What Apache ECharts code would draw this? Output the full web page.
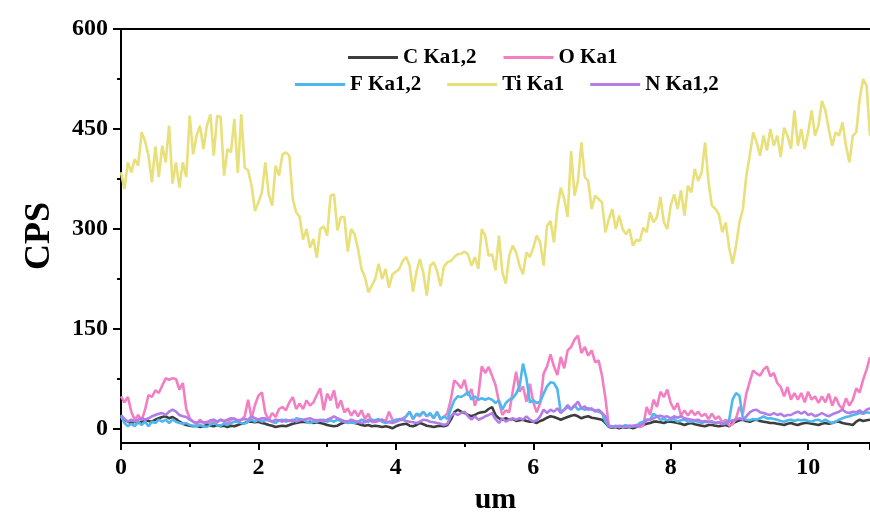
<!DOCTYPE html>
<html>
<head>
<meta charset="utf-8">
<title>EDS line scan</title>
<script src="https://cdn.jsdelivr.net/npm/echarts@6/dist/echarts.min.js"></script>
<style>
  html, body { margin: 0; padding: 0; background: #fff; }
  #chart { width: 870px; height: 516px; }
</style>
</head>
<body>
<div id="chart"></div>
<script>
// Line-scan sampling: one reading every 0.05 um, starting at 0 um
const STEP_UM = 0.05;

const seriesNames = ['C Ka1,2', 'O Ka1', 'F Ka1,2', 'Ti Ka1', 'N Ka1,2'];
const yTickValues = [0, 150, 300, 450, 600];
const yMinorValues = [75, 225, 375, 525];

// Counts per second for each element along the scan
const cKa = [
  20,14,11,9,11,9,11,14,12,11,14,16,18,19,16,18,15,11,8,6,
  5,4,5,3,4,6,5,4,6,4,5,3,5,4,6,8,9,11,11,10,
  11,9,8,6,5,3,4,5,4,6,8,9,10,11,10,11,9,10,9,8,
  6,5,4,5,8,10,11,10,9,8,6,5,6,4,5,4,3,4,3,1,
  4,6,7,8,5,4,6,9,7,5,4,3,4,5,4,6,14,25,29,26,
  24,21,19,21,24,25,26,30,33,21,16,14,16,14,15,12,13,14,12,11,
  11,9,12,14,17,19,18,16,14,16,18,20,21,19,16,18,19,17,16,15,
  14,9,3,2,3,1,3,2,3,1,3,4,6,8,9,11,11,10,9,11,
  11,10,9,8,6,8,9,7,6,5,4,6,6,5,4,5,6,4,9,11,
  13,14,12,11,13,14,12,11,10,9,9,8,7,6,8,9,7,6,8,9,
  9,8,7,6,8,9,8,9,11,11,9,8,7,6,11,14,12,13,14
];

const oKa = [
  49,40,48,26,14,21,13,29,51,48,58,54,65,76,74,76,75,59,69,30,
  16,11,8,14,9,11,8,13,10,14,11,9,14,16,10,14,19,44,16,36,
  50,55,24,14,24,18,30,33,28,40,48,30,38,30,43,35,40,51,61,28,
  53,43,58,31,43,25,31,20,28,19,28,15,23,10,11,12,14,11,26,14,
  11,14,16,19,26,15,22,19,26,19,23,16,25,16,18,24,44,73,68,61,
  74,50,60,35,50,94,84,93,80,66,41,21,28,25,56,86,56,64,41,68,
  40,25,39,83,94,112,94,81,108,91,118,123,134,140,114,123,110,118,100,103,
  80,46,4,3,4,3,4,3,5,4,5,3,5,33,21,44,33,56,48,59,
  39,29,39,20,28,20,28,21,26,19,23,15,23,15,19,10,14,5,7,16,
  33,23,53,71,88,83,80,89,94,79,84,69,63,49,63,44,54,44,54,40,
  56,44,49,39,49,40,53,35,48,36,30,46,35,44,61,55,74,89,108
];

const fKa = [
  19,9,4,8,4,11,6,11,4,11,9,14,11,14,9,14,11,9,8,9,
  6,5,4,6,4,3,6,9,6,5,8,6,9,11,11,9,8,11,14,11,
  14,11,13,14,11,9,13,14,11,13,11,16,15,14,11,9,11,11,13,14,
  11,13,11,14,12,11,9,10,9,11,14,12,11,14,13,15,11,9,11,11,
  14,15,14,19,26,15,23,21,26,19,24,16,26,14,19,15,30,43,49,48,
  51,56,44,49,44,46,44,46,44,39,43,29,39,44,46,53,64,98,76,40,
  43,39,41,53,64,70,69,60,25,29,33,29,36,29,31,29,31,29,28,26,
  24,11,4,3,5,3,4,6,3,5,4,9,11,14,14,23,19,14,15,13,
  14,15,11,13,14,11,11,12,11,9,11,10,11,9,10,8,9,14,44,54,
  50,16,14,13,15,14,16,19,16,16,15,14,12,11,13,14,12,14,13,14,
  12,11,13,14,11,14,11,9,11,14,16,18,19,21,22,24,23,25,24
];

const tiKa = [
  385,360,400,385,405,395,445,432,410,370,424,378,425,400,455,368,400,362,400,378,
  470,412,440,455,420,455,472,410,470,468,380,420,415,465,384,472,392,388,365,327,
  340,355,400,352,335,395,380,412,415,410,345,325,318,284,300,272,285,257,300,304,
  290,350,352,298,318,318,266,300,292,270,240,228,205,215,225,248,225,240,212,232,
  236,240,252,258,245,206,236,255,234,200,245,250,237,214,244,250,252,258,262,263,
  266,262,245,258,240,300,290,260,262,238,290,235,218,260,275,265,245,232,265,258,
  272,290,280,245,305,312,280,330,362,345,318,417,350,372,430,378,372,330,350,345,
  340,295,315,330,300,320,300,292,300,275,284,282,302,295,325,310,318,348,310,300,
  335,352,330,358,320,365,355,390,372,385,430,370,335,330,322,295,310,272,248,275,
  310,330,380,410,445,430,410,440,418,450,425,440,408,452,440,420,478,425,450,420,
  445,478,440,455,492,478,450,425,445,440,460,425,400,440,445,495,525,515,440
];

const nKa = [
  21,15,11,14,11,14,16,14,16,19,21,23,24,21,26,29,26,21,19,18,
  14,11,9,11,10,9,13,14,11,14,12,14,16,15,13,14,15,14,19,16,
  14,16,16,13,11,14,13,11,14,12,14,11,13,14,15,16,14,13,14,11,
  14,16,19,16,14,12,11,14,12,11,9,10,14,12,11,13,14,11,10,9,
  11,13,14,12,11,10,9,11,14,13,11,10,9,8,6,8,19,24,21,24,
  26,19,14,19,14,16,19,21,24,15,9,16,11,14,16,14,16,14,19,14,
  11,13,19,29,24,29,26,31,24,29,36,30,35,41,31,34,29,31,26,29,
  24,19,5,4,3,5,4,3,5,4,6,5,8,13,14,16,19,20,18,19,
  16,19,17,19,16,15,14,13,14,11,12,11,11,9,10,7,8,11,13,14,
  16,14,19,25,28,29,25,24,22,21,24,21,23,19,21,21,24,26,23,26,
  21,23,19,21,24,21,19,22,24,26,29,25,24,26,25,28,24,29,31
];

const seriesValues = [cKa, oKa, fKa, tiKa, nKa];
const seriesColors = ['#3d3d3d', '#f47ec2', '#4db8ef', '#e8e07a', '#b27ce9'];

const SERIF = "'Times New Roman', 'Liberation Serif', 'DejaVu Serif', serif";

function toPoints(values) {
  return values.map((v, i) => [+(i * STEP_UM).toFixed(2), v]);
}

const chart = echarts.init(document.getElementById('chart'), null, { renderer: 'canvas' });

const axisLineStyle = { color: '#000', width: 2 };
const legendText = { fontFamily: SERIF, fontWeight: 'bold', fontSize: 21, color: '#000' };

const option = {
  backgroundColor: '#fff',
  animation: false,
  grid: {
    left: 121, right: 0, top: 29, bottom: 73,
    containLabel: false,
    outerBoundsMode: 'none'
  },
  legend: [
    {
      data: [seriesNames[0], seriesNames[1]],
      left: 348, top: 47,
      padding: 0,
      icon: 'rect',
      itemWidth: 50, itemHeight: 3, itemGap: 27,
      textStyle: legendText
    },
    {
      data: [seriesNames[2], seriesNames[3], seriesNames[4]],
      left: 295, top: 74,
      padding: 0,
      icon: 'rect',
      itemWidth: 50, itemHeight: 3, itemGap: 26,
      textStyle: legendText
    }
  ],
  xAxis: [
    {
      type: 'value',
      min: 0, max: 10.9, interval: 2,
      name: 'um',
      nameLocation: 'middle',
      nameGap: 40,
      nameTextStyle: { fontFamily: SERIF, fontWeight: 'bold', fontSize: 30, color: '#000' },
      axisLine: { show: true, onZero: false, lineStyle: axisLineStyle },
      axisTick: { show: true, inside: false, length: 7, lineStyle: { color: '#000', width: 2 } },
      minorTick: { show: true, splitNumber: 2, length: 4, lineStyle: { color: '#000', width: 2 } },
      axisLabel: { margin: 13, fontFamily: SERIF, fontWeight: 'bold', fontSize: 24, color: '#000', showMaxLabel: false },
      splitLine: { show: false }
    },
    {
      type: 'value',
      position: 'top',
      min: 0, max: 10.9,
      axisLine: { show: true, onZero: false, lineStyle: axisLineStyle },
      axisTick: { show: false },
      axisLabel: { show: false },
      splitLine: { show: false }
    }
  ],
  yAxis: [
    {
      type: 'value',
      min: -21, max: 600,
      name: 'CPS',
      nameLocation: 'middle',
      nameGap: 63,
      nameRotate: 90,
      nameTextStyle: { fontFamily: SERIF, fontWeight: 'bold', fontSize: 36, color: '#000' },
      axisLine: { show: true, onZero: false, lineStyle: axisLineStyle },
      axisTick: { show: true, inside: false, length: 8, customValues: yTickValues, lineStyle: { color: '#000', width: 2 } },
      axisLabel: { margin: 13, customValues: yTickValues, fontFamily: SERIF, fontWeight: 'bold', fontSize: 24, color: '#000' },
      splitLine: { show: false }
    },
    {
      type: 'value',
      position: 'left',
      min: -21, max: 600,
      axisLine: { show: false },
      axisTick: { show: true, inside: false, length: 4, customValues: yMinorValues, lineStyle: { color: '#000', width: 2 } },
      axisLabel: { show: false, customValues: yMinorValues },
      splitLine: { show: false }
    }
  ],
  series: seriesNames.map((name, k) => ({
    name,
    type: 'line',
    xAxisIndex: 0,
    yAxisIndex: 0,
    data: toPoints(seriesValues[k]),
    symbol: 'none',
    showSymbol: false,
    smooth: false,
    clip: true,
    color: seriesColors[k],
    lineStyle: { color: seriesColors[k], width: 2.6 }
  }))
};

chart.setOption(option);
</script>
</body>
</html>
